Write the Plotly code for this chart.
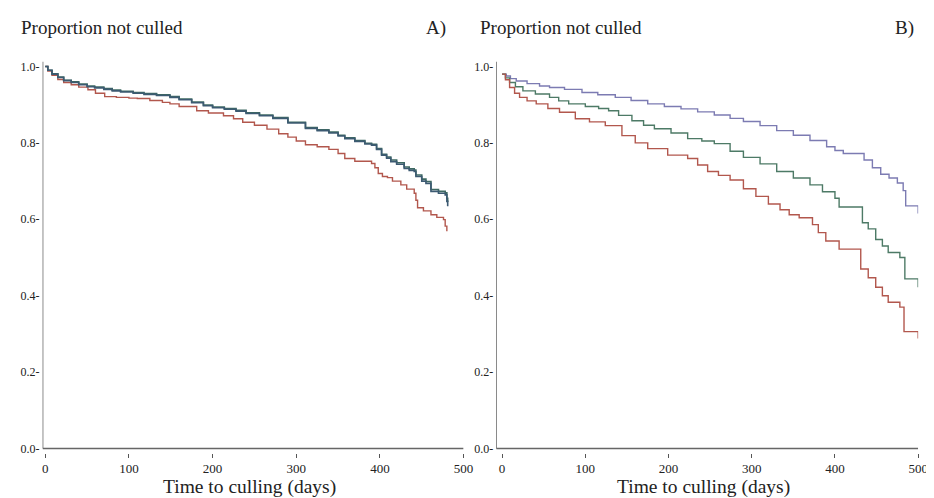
import plotly.graph_objects as go

# ---------------- data ----------------
# Panel A
a_dark_days = [0, 3, 8, 15, 22, 31, 40, 50, 59, 70, 80, 90, 105, 118, 133, 149, 160, 175, 189, 200,
               214, 228, 240, 256, 272, 290, 311, 325, 339, 350, 358, 370, 382, 390, 396, 402, 408,
               413, 420, 429, 435, 441, 443, 450, 455, 461, 470, 478, 480, 481]
a_dark_surv = [1.0, 0.99, 0.98, 0.971, 0.963, 0.958, 0.952, 0.947, 0.944, 0.94, 0.936, 0.933, 0.93,
               0.927, 0.924, 0.919, 0.913, 0.905, 0.897, 0.892, 0.888, 0.883, 0.877, 0.871, 0.864,
               0.852, 0.838, 0.832, 0.826, 0.818, 0.811, 0.804, 0.797, 0.794, 0.783, 0.768, 0.760,
               0.751, 0.744, 0.733, 0.728, 0.725, 0.712, 0.70, 0.694, 0.673, 0.668, 0.664, 0.647, 0.634]
a_dark2_surv = [1.0, 0.99, 0.981, 0.972, 0.964, 0.96, 0.954, 0.949, 0.946, 0.942, 0.938, 0.935, 0.932,
                0.929, 0.926, 0.921, 0.915, 0.907, 0.899, 0.894, 0.89, 0.885, 0.879, 0.873, 0.866,
                0.854, 0.84, 0.834, 0.828, 0.82, 0.813, 0.806, 0.799, 0.796, 0.785, 0.770, 0.763,
                0.755, 0.748, 0.737, 0.732, 0.729, 0.716, 0.705, 0.699, 0.678, 0.673, 0.669, 0.655, 0.645]
a_red_days = [0, 3, 8, 15, 22, 31, 40, 51, 60, 71, 85, 100, 110, 125, 140, 149, 160, 181, 195, 213,
              225, 236, 250, 265, 279, 290, 300, 311, 325, 339, 350, 358, 370, 390, 394, 398, 403,
              409, 415, 425, 432, 441, 443, 445, 452, 461, 468, 476, 478, 480]
a_red_surv = [1.0, 0.988, 0.977, 0.966, 0.958, 0.952, 0.946, 0.939, 0.93, 0.921, 0.919, 0.917, 0.916,
              0.911, 0.906, 0.902, 0.895, 0.884, 0.878, 0.871, 0.863, 0.854, 0.846, 0.836, 0.824,
              0.815, 0.805, 0.795, 0.79, 0.783, 0.772, 0.759, 0.752, 0.746, 0.735, 0.720, 0.712,
              0.709, 0.70, 0.690, 0.679, 0.668, 0.65, 0.630, 0.622, 0.612, 0.605, 0.599, 0.582, 0.569]

# Panel B
b_purple_days = [0, 5, 10, 17, 30, 45, 57, 75, 96, 115, 136, 155, 175, 195, 215, 235, 255, 274, 290,
                 310, 330, 350, 370, 390, 400, 410, 428, 435, 445, 455, 465, 475, 482, 485, 498, 500]
b_purple_surv = [0.98, 0.975, 0.968, 0.962, 0.955, 0.949, 0.945, 0.94, 0.932, 0.926, 0.919, 0.911,
                 0.902, 0.895, 0.889, 0.881, 0.873, 0.864, 0.856, 0.845, 0.832, 0.82, 0.806, 0.79,
                 0.78, 0.772, 0.772, 0.755, 0.735, 0.718, 0.708, 0.695, 0.675, 0.635, 0.635, 0.615]
b_green_days = [0, 4, 9, 16, 25, 40, 57, 68, 80, 100, 116, 128, 140, 156, 170, 183, 203, 223, 240,
                255, 274, 290, 310, 330, 350, 370, 385, 400, 405, 427, 433, 440, 449, 457, 464, 478,
                484, 499, 500]
b_green_surv = [0.98, 0.97, 0.958, 0.947, 0.936, 0.928, 0.919, 0.91, 0.902, 0.895, 0.89, 0.884, 0.872,
                0.858, 0.846, 0.837, 0.826, 0.811, 0.805, 0.798, 0.778, 0.762, 0.745, 0.725, 0.708,
                0.69, 0.672, 0.655, 0.632, 0.632, 0.591, 0.575, 0.547, 0.53, 0.513, 0.50, 0.444,
                0.444, 0.422]
b_red_days = [0, 4, 9, 15, 21, 30, 41, 55, 69, 88, 105, 124, 144, 160, 175, 199, 223, 235, 247, 260,
              274, 290, 305, 320, 334, 345, 357, 373, 380, 389, 405, 427, 431, 440, 449, 457, 464,
              478, 483, 499, 500]
b_red_surv = [0.98, 0.965, 0.945, 0.93, 0.919, 0.91, 0.902, 0.89, 0.88, 0.863, 0.855, 0.845, 0.819,
              0.80, 0.785, 0.768, 0.759, 0.742, 0.725, 0.715, 0.703, 0.68, 0.66, 0.64, 0.625, 0.612,
              0.604, 0.586, 0.565, 0.543, 0.522, 0.522, 0.470, 0.447, 0.422, 0.40, 0.383, 0.37,
              0.306, 0.306, 0.288]

x_ticks = [0, 100, 200, 300, 400, 500]
x_ticklabels = ["0", "100", "200", "300", "400", "500"]
y_ticks = [0.0, 0.2, 0.4, 0.6, 0.8, 1.0]
y_ticklabels = ["0.0-", "0.2-", "0.4-", "0.6-", "0.8-", "1.0-"]

# ---------------- styling ----------------
RED = "#b2574d"
GREEN = "#4d7a66"
PURPLE = "#7c7bb2"
DARK_BLUE = "#3c5a72"
DARK_GREEN = "#3e6a62"
FONT = "Liberation Serif"
TXT = "#222222"

W, H = 934, 498
def px_x(p):
    return p / W
def px_y(p):
    return 1 - p / H

xrA = [-3.2, 500]
xrB = [-7.1, 500]
yr = [-0.0104, 1.013]

fig = go.Figure()

def add(xs, ys, color, xa, ya, width=1.4):
    fig.add_trace(go.Scatter(x=xs, y=ys, mode="lines", line=dict(color=color, width=width, shape="hv"),
                             xaxis=xa, yaxis=ya, showlegend=False, hoverinfo="skip"))

add(a_red_days, a_red_surv, RED, "x", "y")
add(a_dark_days, a_dark2_surv, DARK_GREEN, "x", "y", 1.6)
add(a_dark_days, a_dark_surv, DARK_BLUE, "x", "y", 1.6)

add(b_purple_days, b_purple_surv, PURPLE, "x2", "y2")
add(b_green_days, b_green_surv, GREEN, "x2", "y2")
add(b_red_days, b_red_surv, RED, "x2", "y2")

ydom = [px_y(447), px_y(52)]
xaxis_common = dict(tickmode="array", tickvals=x_ticks, ticktext=x_ticklabels, ticks="outside",
                    ticklen=4, tickwidth=1, tickcolor="#555555", showline=False, showgrid=False,
                    zeroline=False, tickfont=dict(family=FONT, size=13, color=TXT))
yaxis_common = dict(tickmode="array", tickvals=y_ticks, ticktext=y_ticklabels, ticks="",
                    showline=False, showgrid=False, zeroline=False, range=yr, domain=ydom,
                    ticklabelstandoff=2,
                    tickfont=dict(family=FONT, size=12, color=TXT))

fig.update_layout(
    width=W, height=H,
    margin=dict(l=0, r=0, t=0, b=0),
    paper_bgcolor="white", plot_bgcolor="white",
    xaxis=dict(**xaxis_common, domain=[px_x(34), px_x(460)], range=xrA, anchor="y"),
    yaxis=dict(**yaxis_common, anchor="x"),
    xaxis2=dict(**xaxis_common, domain=[px_x(493), px_x(920)], range=xrB, anchor="y2"),
    yaxis2=dict(**yaxis_common, anchor="x2"),
)

# axis lines drawn as shapes so ticks stay detached from the x axis line
for xr, xref, yref in [(xrA, "x", "y"), (xrB, "x2", "y2")]:
    fig.add_shape(type="line", xref=xref, yref=yref, x0=xr[0], x1=xr[0], y0=0, y1=yr[1],
                  line=dict(color="#666666", width=1.5))
    fig.add_shape(type="line", xref=xref, yref=yref, x0=xr[0], x1=500, y0=0, y1=0,
                  line=dict(color="#666666", width=1.5))

ann = []
def text(t, x, y, size, xanchor="left"):
    ann.append(dict(text=t, x=px_x(x), y=px_y(y), xref="paper", yref="paper", showarrow=False,
                    xanchor=xanchor, yanchor="middle", font=dict(family=FONT, size=size, color=TXT)))

text("Proportion not culled", 10, 18, 19)
text("A)", 444, 18, 19, "right")
text("Proportion not culled", 475, 18, 19)
text("B)", 918, 18, 19, "right")
text("Time to culling (days)", 243, 482, 19.5, "center")
text("Time to culling (days)", 703, 482, 19.5, "center")
fig.update_layout(annotations=ann)

fig.write_html("out.html")
